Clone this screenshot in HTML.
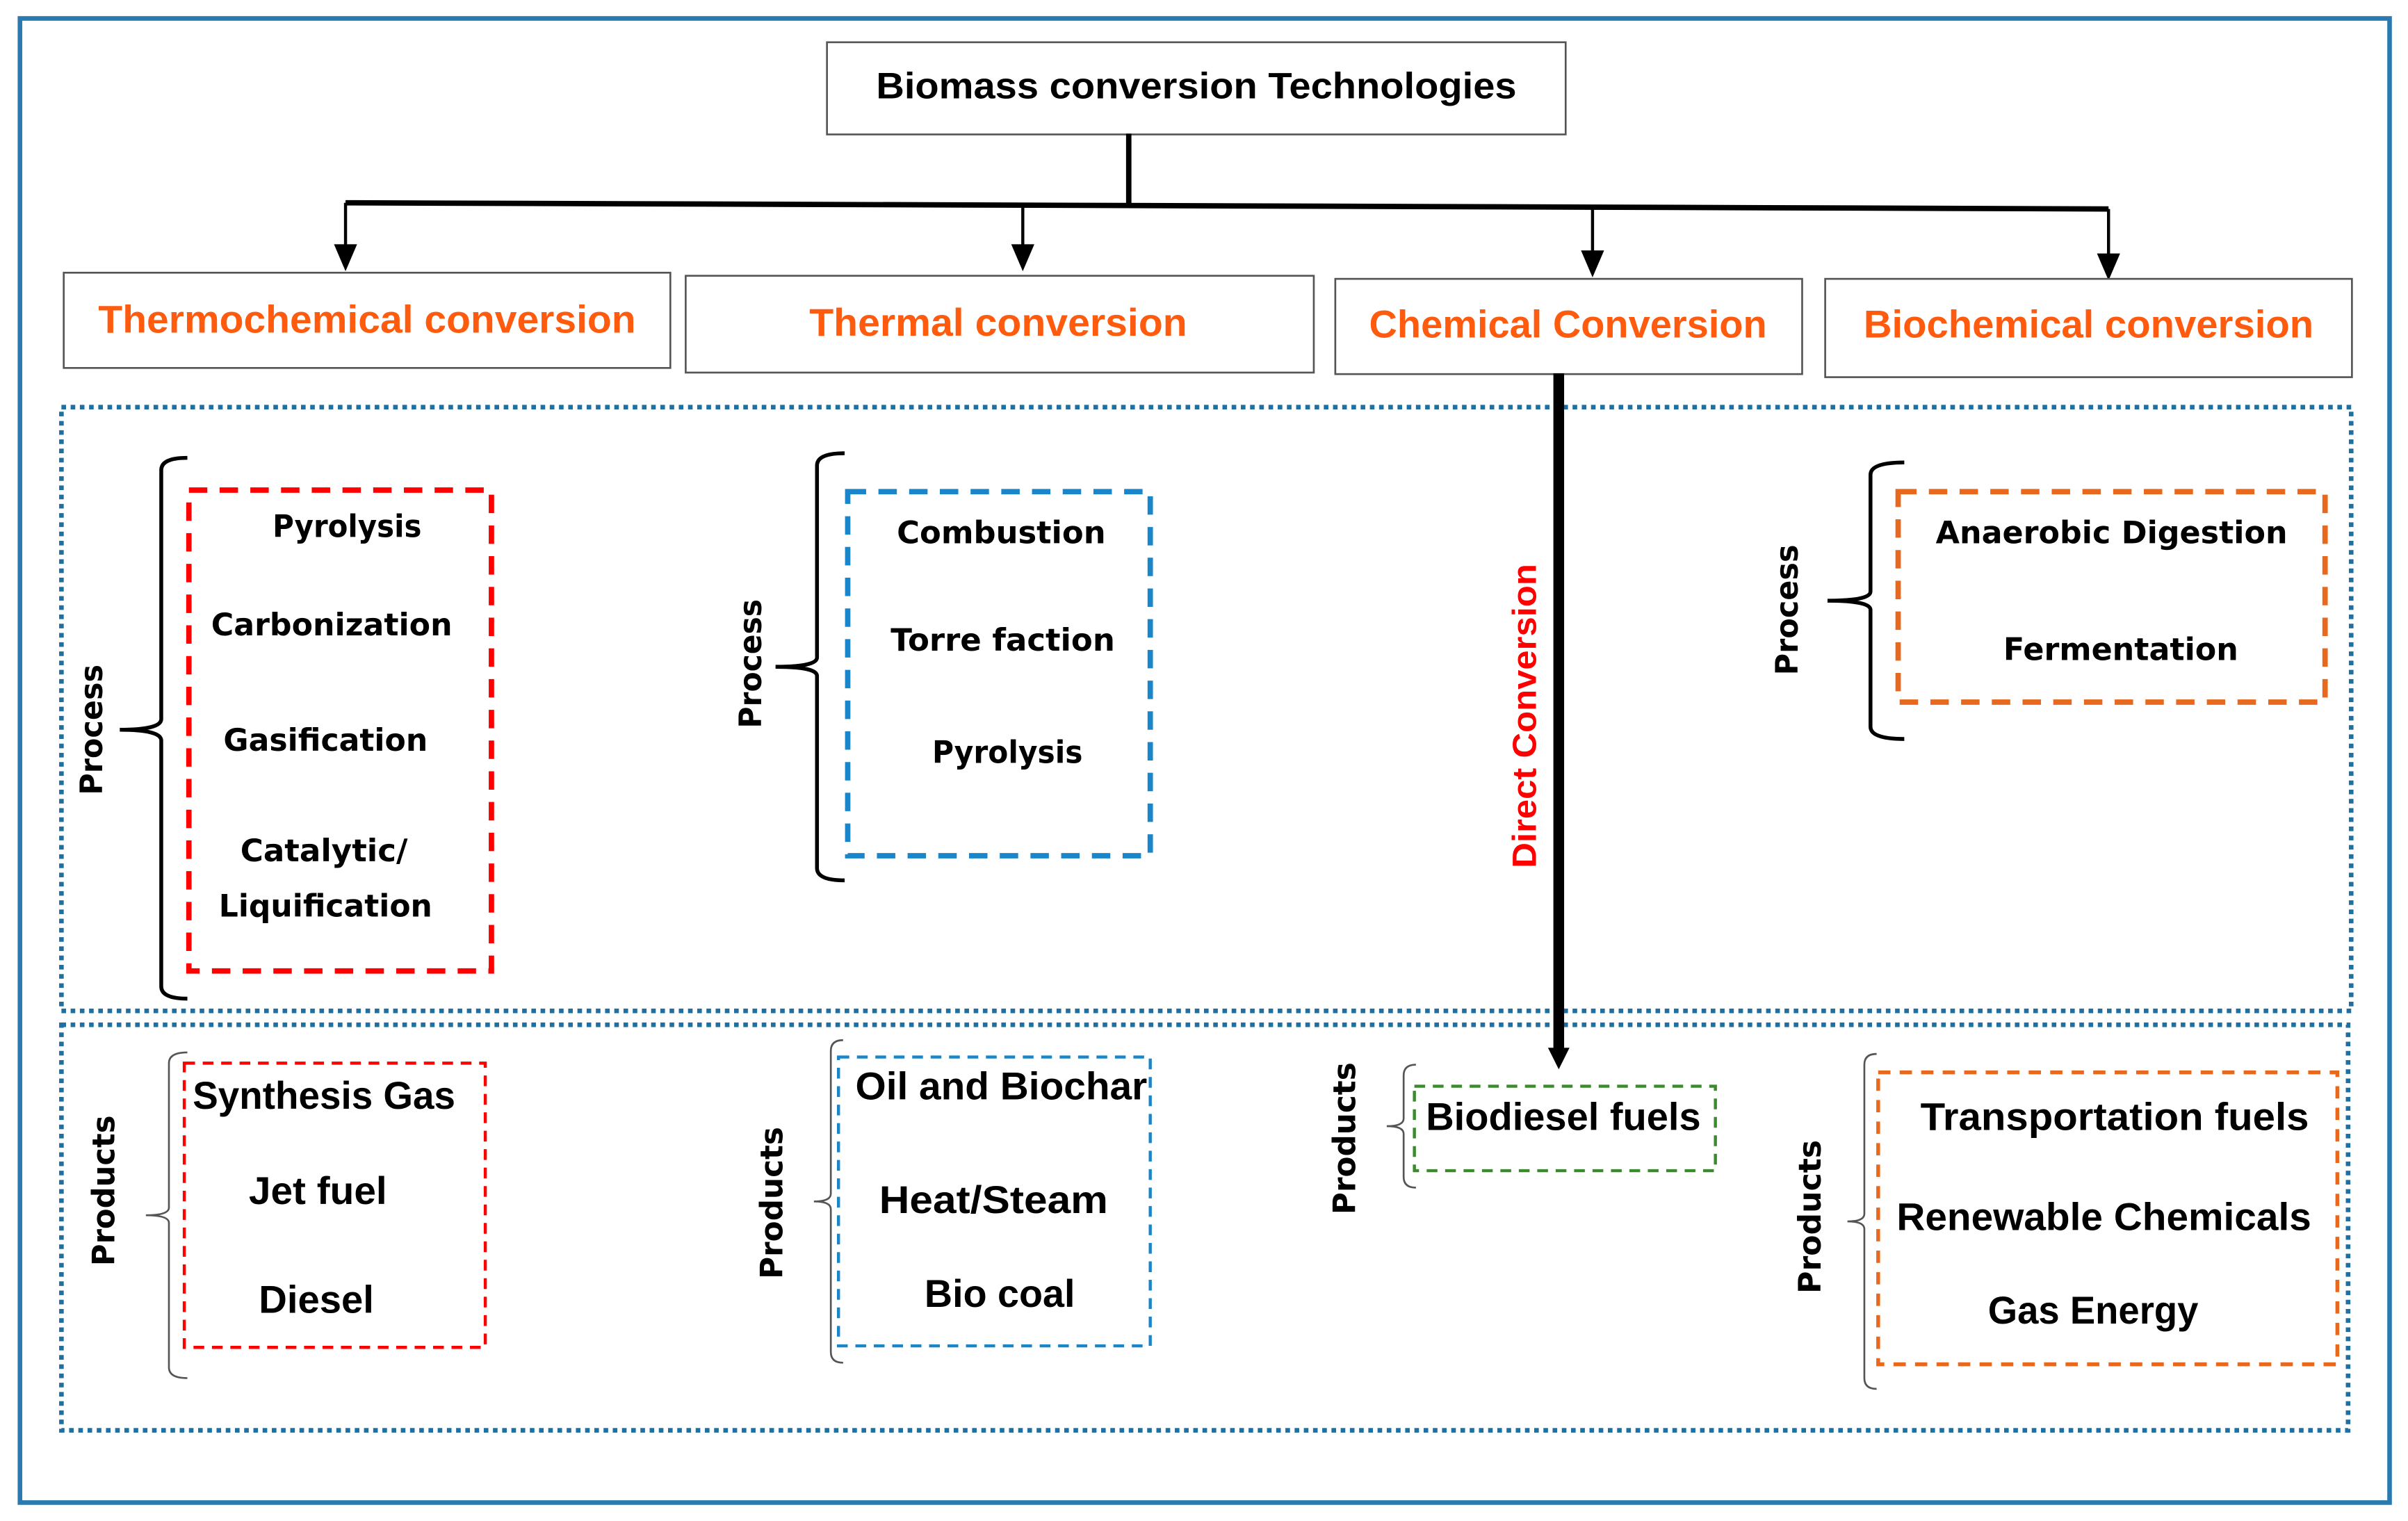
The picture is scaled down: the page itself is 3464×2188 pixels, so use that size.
<!DOCTYPE html>
<html><head><meta charset="utf-8"><style>
html,body{margin:0;padding:0;background:#fff;}
svg{display:block;}
.t{font-family:"Liberation Sans",sans-serif;font-weight:bold;}
.d{font-family:"DejaVu Sans",sans-serif;font-weight:bold;}
</style></head><body>
<svg width="3464" height="2188" viewBox="0 0 1568 990" preserveAspectRatio="none" xmlns="http://www.w3.org/2000/svg">
<defs><marker id="ah" viewBox="0 0 10 10" refX="5" refY="10" markerWidth="14" markerHeight="14" markerUnits="userSpaceOnUse" orient="auto-start-reverse"><path d="M0,0 L10,0 L5,10 z" fill="#000"/></marker></defs>
<rect x="0" y="0" width="1568" height="990" fill="#fff"/>
<rect x="13" y="12" width="1543" height="966" fill="none" stroke="#2a7ab0" stroke-width="3"/>
<!-- title -->
<rect x="538.5" y="27.5" width="481" height="60" fill="#fff" stroke="#555" stroke-width="1.2"/>
<text class="t" x="779" y="56" font-size="24" text-anchor="middle" dominant-baseline="central" textLength="417" lengthAdjust="spacingAndGlyphs">Biomass conversion Technologies</text>
<!-- connectors -->
<line x1="735" y1="87" x2="735" y2="133" stroke="#000" stroke-width="3.5"/>
<polyline points="225,132 1373,136" fill="none" stroke="#000" stroke-width="3.5"/>
<g stroke="#000" stroke-width="2">
<line x1="225" y1="132" x2="225" y2="162"/><path d="M219,160 L231,160 L225,174z" fill="#000"/>
<line x1="666" y1="133" x2="666" y2="162"/><path d="M660,160 L672,160 L666,174z" fill="#000"/>
<line x1="1037" y1="135" x2="1037" y2="165"/><path d="M1031,164 L1043,164 L1037,178z" fill="#000"/>
<line x1="1373" y1="136" x2="1373" y2="166"/><path d="M1367,166 L1379,166 L1373,180z" fill="#000"/>
</g>
<!-- category boxes -->
<g fill="#fff" stroke="#555" stroke-width="1.2">
<rect x="41.5" y="177.5" width="395" height="62"/>
<rect x="446.5" y="179.5" width="409" height="63"/>
<rect x="869.5" y="181.5" width="304" height="62"/>
<rect x="1188.5" y="181.5" width="343" height="64"/>
</g>
<g class="t" fill="#ff5b0f" font-size="25" text-anchor="middle" dominant-baseline="central">
<text x="239" y="208" textLength="350" lengthAdjust="spacingAndGlyphs">Thermochemical conversion</text>
<text x="650" y="210" textLength="246" lengthAdjust="spacingAndGlyphs">Thermal conversion</text>
<text x="1021" y="211" textLength="259" lengthAdjust="spacingAndGlyphs">Chemical Conversion</text>
<text x="1360" y="211" textLength="293" lengthAdjust="spacingAndGlyphs">Biochemical conversion</text>
</g>
<!-- dotted regions -->
<rect x="40" y="265" width="1491" height="393" fill="none" stroke="#1f6fa0" stroke-width="3" stroke-dasharray="3 3"/>
<rect x="40" y="667" width="1489" height="264" fill="none" stroke="#1f6fa0" stroke-width="3" stroke-dasharray="3 3"/>
<!-- thick arrow -->
<line x1="1015" y1="243" x2="1015" y2="684" stroke="#000" stroke-width="7"/>
<path d="M1008,682 L1022,682 L1015,696z" fill="#000"/>
<text class="t" transform="translate(993,466) rotate(-90)" font-size="22" fill="#f00" text-anchor="middle" dominant-baseline="central" textLength="198" lengthAdjust="spacingAndGlyphs">Direct Conversion</text>
<!-- braces process -->
<g fill="none" stroke="#000" stroke-width="2.5">
<path d="M122,298 Q105,298 105,306 L105,468 Q105,475 78,475 Q105,475 105,482 L105,642 Q105,650 122,650"/>
<path d="M550,295 Q532,295 532,303 L532,428 Q532,434 505,434 Q532,434 532,440 L532,565 Q532,573 550,573"/>
<path d="M1240,301 Q1218,301 1218,309 L1218,385 Q1218,391 1190,391 Q1218,391 1218,397 L1218,473 Q1218,481 1240,481"/>
</g>
<!-- braces products (thin gray) -->
<g fill="none" stroke="#555" stroke-width="1.2">
<path d="M122,685 Q110,685 110,692 L110,786 Q110,791 95,791 Q110,791 110,796 L110,890 Q110,897 122,897"/>
<path d="M549,677 Q541,677 541,684 L541,777 Q541,782 530,782 Q541,782 541,787 L541,880 Q541,887 549,887"/>
<path d="M922,693 Q914,693 914,700 L914,728 Q914,733 903,733 Q914,733 914,738 L914,766 Q914,773 922,773"/>
<path d="M1222,686 Q1214,686 1214,693 L1214,790 Q1214,795 1203,795 Q1214,795 1214,800 L1214,897 Q1214,904 1222,904"/>
</g>
<!-- dashed boxes -->
<rect x="123" y="319" width="197" height="313" fill="none" stroke="#f00" stroke-width="3.5" stroke-dasharray="12 8"/>
<rect x="552" y="320" width="197" height="237" fill="none" stroke="#1a85c8" stroke-width="3.5" stroke-dasharray="12 8"/>
<rect x="1236" y="320" width="278" height="137" fill="none" stroke="#e8691e" stroke-width="3.5" stroke-dasharray="12 8"/>
<rect x="120" y="692" width="196" height="185" fill="none" stroke="#f00" stroke-width="2" stroke-dasharray="7 5"/>
<rect x="546" y="688" width="203" height="188" fill="none" stroke="#1a85c8" stroke-width="2" stroke-dasharray="7 5"/>
<rect x="921" y="707" width="196" height="55" fill="none" stroke="#3b8a2e" stroke-width="2" stroke-dasharray="7 5"/>
<rect x="1223" y="698" width="299" height="190" fill="none" stroke="#e8691e" stroke-width="2.5" stroke-dasharray="8 6"/>
<!-- process texts -->
<g class="d" font-size="20" text-anchor="middle" dominant-baseline="central" fill="#000">
<text x="226" y="343" textLength="97" lengthAdjust="spacingAndGlyphs">Pyrolysis</text>
<text x="216" y="407" textLength="157" lengthAdjust="spacingAndGlyphs">Carbonization</text>
<text x="212" y="482" textLength="133" lengthAdjust="spacingAndGlyphs">Gasification</text>
<text x="211" y="554" textLength="109" lengthAdjust="spacingAndGlyphs">Catalytic/</text>
<text x="212" y="590" textLength="139" lengthAdjust="spacingAndGlyphs">Liquification</text>
<text x="652" y="347" textLength="136" lengthAdjust="spacingAndGlyphs">Combustion</text>
<text x="653" y="417" textLength="146" lengthAdjust="spacingAndGlyphs">Torre faction</text>
<text x="656" y="490" textLength="98" lengthAdjust="spacingAndGlyphs">Pyrolysis</text>
<text x="1375" y="347" textLength="229" lengthAdjust="spacingAndGlyphs">Anaerobic Digestion</text>
<text x="1381" y="423" textLength="153" lengthAdjust="spacingAndGlyphs">Fermentation</text>
<text transform="translate(60,475) rotate(-90)" textLength="85" lengthAdjust="spacingAndGlyphs">Process</text>
<text transform="translate(489,432) rotate(-90)" textLength="84" lengthAdjust="spacingAndGlyphs">Process</text>
<text transform="translate(1164,397) rotate(-90)" textLength="85" lengthAdjust="spacingAndGlyphs">Process</text>
<text transform="translate(68,775) rotate(-90)" textLength="98" lengthAdjust="spacingAndGlyphs">Products</text>
<text transform="translate(503,783) rotate(-90)" textLength="99" lengthAdjust="spacingAndGlyphs">Products</text>
<text transform="translate(876,741) rotate(-90)" textLength="99" lengthAdjust="spacingAndGlyphs">Products</text>
<text transform="translate(1179,792) rotate(-90)" textLength="100" lengthAdjust="spacingAndGlyphs">Products</text>
</g>
<!-- product texts -->
<g class="t" font-size="25" text-anchor="middle" dominant-baseline="central" fill="#000">
<text x="211" y="713" textLength="171" lengthAdjust="spacingAndGlyphs">Synthesis Gas</text>
<text x="207" y="775" textLength="90" lengthAdjust="spacingAndGlyphs">Jet fuel</text>
<text x="206" y="846" textLength="75" lengthAdjust="spacingAndGlyphs">Diesel</text>
<text x="652" y="707" textLength="190" lengthAdjust="spacingAndGlyphs">Oil and Biochar</text>
<text x="647" y="781" textLength="149" lengthAdjust="spacingAndGlyphs">Heat/Steam</text>
<text x="651" y="842" textLength="98" lengthAdjust="spacingAndGlyphs">Bio coal</text>
<text x="1018" y="727" textLength="179" lengthAdjust="spacingAndGlyphs">Biodiesel fuels</text>
<text x="1377" y="727" textLength="253" lengthAdjust="spacingAndGlyphs">Transportation fuels</text>
<text x="1370" y="792" textLength="270" lengthAdjust="spacingAndGlyphs">Renewable Chemicals</text>
<text x="1363" y="853" textLength="137" lengthAdjust="spacingAndGlyphs">Gas Energy</text>
</g>
</svg>
</body></html>
